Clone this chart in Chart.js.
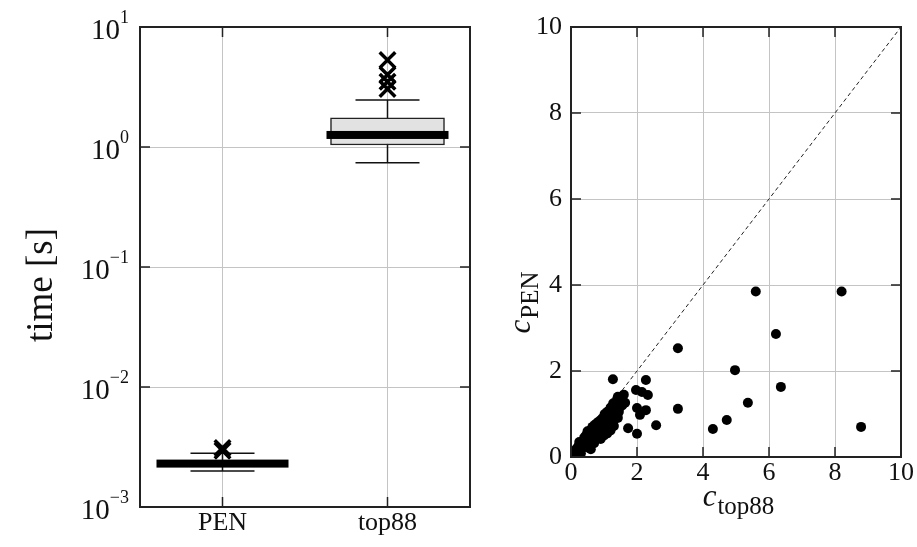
<!DOCTYPE html>
<html>
<head>
<meta charset="utf-8">
<script src="https://cdn.jsdelivr.net/npm/chart.js@4.4.0/dist/chart.umd.min.js"></script>
<style>
  body { margin: 0; background: #fff; }
  #left { position: absolute; left: 0; top: 0; }
  #right { position: absolute; left: 490px; top: 0; }
</style>
</head>
<body>
<canvas id="left" width="490" height="547"></canvas>
<canvas id="right" width="427" height="547"></canvas>
<script>
// ---- box plot data (seconds) ----
const methods = ['PEN', 'top88'];
const whiskerLow = [2.0e-3, 0.74];
const quart1 = [2.2e-3, 1.04];
const medians = [2.3e-3, 1.26];
const quart3 = [2.42e-3, 1.75];
const whiskerHigh = [2.8e-3, 2.47];
const penOutliers = [3.1e-3, 2.95e-3];
const top88Outliers = [5.3, 4.0, 3.5, 3.05];

// log axis ticks
const yTickValues = [1e-3, 1e-2, 1e-1, 1, 10];
const yTickExponents = ['\u22123', '\u22122', '\u22121', '0', '1'];

// ---- scatter data ----
const cTop88 = [0.03, 0.08, 0.12, 0.15, 0.2, 0.22, 0.28, 0.3, 0.35, 0.38, 0.42, 0.45, 0.48, 0.5, 0.52,
  0.55, 0.58, 0.6, 0.62, 0.65, 0.68, 0.7, 0.72, 0.75, 0.78, 0.8, 0.82, 0.85, 0.88, 0.9,
  0.92, 0.95, 0.98, 1.0, 1.02, 1.05, 1.08, 1.1, 1.15, 1.18, 1.2, 1.25, 1.28, 1.3, 1.35,
  1.4, 1.42, 1.45, 1.5, 1.55, 1.6, 1.48, 1.64, 1.42, 1.27,
  0.3, 0.5, 0.7, 0.9, 1.1, 1.3, 0.6, 0.4, 0.25, 0.95, 1.2,
  1.97, 2.15, 2.33, 2.27, 2.0, 2.27, 2.09, 1.73, 2.0, 2.58,
  3.24, 3.24, 4.3, 4.72, 4.97, 5.36, 5.6, 6.21, 6.36, 8.2, 8.79];
const cPEN = [0.02, 0.1, 0.05, 0.18, 0.1, 0.25, 0.15, 0.3, 0.22, 0.38, 0.3, 0.5, 0.4, 0.6, 0.3,
  0.48, 0.62, 0.42, 0.55, 0.7, 0.5, 0.62, 0.75, 0.45, 0.6, 0.8, 0.68, 0.55, 0.85, 0.72,
  0.6, 0.9, 0.78, 0.5, 1.0, 0.68, 0.88, 1.05, 0.95, 0.75, 1.15, 1.0, 1.25, 0.85, 1.15,
  1.35, 1.4, 1.05, 1.3, 1.2, 1.45, 1.16, 1.26, 0.91, 1.81,
  0.08, 0.22, 0.32, 0.42, 0.55, 0.72, 0.18, 0.45, 0.35, 0.62, 0.62,
  1.56, 1.51, 1.44, 1.79, 1.14, 1.09, 0.98, 0.67, 0.54, 0.74,
  2.53, 1.12, 0.65, 0.86, 2.02, 1.26, 3.85, 2.86, 1.63, 3.85, 0.70];
const refLine = [0, 10];
const linTicks = [0, 2, 4, 6, 8, 10];

const SERIF = '"Liberation Serif", "DejaVu Serif", serif';
const INK = '#111';

// frame around the plot area plus inward tick marks on all four sides
const frameTicks = {
  id: 'frameTicks',
  afterDraw(chart) {
    const { ctx, chartArea: a, scales: { x, y } } = chart;
    ctx.save();
    ctx.strokeStyle = '#222';
    ctx.lineWidth = 1.5;
    ctx.beginPath();
    x.ticks.forEach((t, i) => {
      const px = x.getPixelForTick(i);
      ctx.moveTo(px, a.bottom); ctx.lineTo(px, a.bottom - 10);
      ctx.moveTo(px, a.top); ctx.lineTo(px, a.top + 10);
    });
    y.ticks.forEach((t, i) => {
      const py = y.getPixelForTick(i);
      ctx.moveTo(a.left, py); ctx.lineTo(a.left + 10, py);
      ctx.moveTo(a.right, py); ctx.lineTo(a.right - 10, py);
    });
    ctx.stroke();
    ctx.lineWidth = 2;
    ctx.strokeRect(a.left, a.top, a.width, a.height);
    ctx.restore();
  }
};

function drawSubLabel(ctx, cx, cy, rot, main, sub) {
  ctx.save();
  ctx.translate(cx, cy);
  ctx.rotate(rot);
  ctx.fillStyle = INK;
  ctx.textBaseline = 'alphabetic';
  ctx.font = 'italic 31px ' + SERIF;
  const w1 = ctx.measureText(main).width;
  ctx.font = '25px ' + SERIF;
  const w2 = ctx.measureText(sub).width;
  const sx = -(w1 + w2) / 2;
  ctx.font = 'italic 31px ' + SERIF;
  ctx.fillText(main, sx, 4);
  ctx.font = '25px ' + SERIF;
  ctx.fillText(sub, sx + w1 + 1, 12);
  ctx.restore();
}

// whiskers, caps, medians and the power-of-ten labels for the left panel
const boxPlot = {
  id: 'boxPlot',
  beforeDatasetsDraw(chart) {
    const { ctx, scales: { x, y } } = chart;
    ctx.save();
    ctx.strokeStyle = INK;
    ctx.lineWidth = 1.5;
    methods.forEach((m, i) => {
      const cx = x.getPixelForValue(i);
      const lo = y.getPixelForValue(whiskerLow[i]);
      const hi = y.getPixelForValue(whiskerHigh[i]);
      ctx.beginPath();
      ctx.moveTo(cx, lo); ctx.lineTo(cx, hi);
      ctx.moveTo(cx - 32, lo); ctx.lineTo(cx + 32, lo);
      ctx.moveTo(cx - 32, hi); ctx.lineTo(cx + 32, hi);
      ctx.stroke();
    });
    ctx.restore();
  },
  afterDatasetsDraw(chart) {
    const { ctx, scales: { x, y } } = chart;
    ctx.save();
    ctx.fillStyle = '#000';
    methods.forEach((m, i) => {
      const cx = x.getPixelForValue(i);
      const py = y.getPixelForValue(medians[i]);
      const w = i === 0 ? 132 : 122;
      ctx.fillRect(cx - w / 2, py - 4, w, 8);
    });
    ctx.restore();
  },
  afterDraw(chart) {
    const { ctx, chartArea: a, scales: { y } } = chart;
    ctx.save();
    ctx.fillStyle = INK;
    ctx.textBaseline = 'middle';
    yTickValues.forEach((v, i) => {
      const py = y.getPixelForValue(v);
      ctx.font = '18px ' + SERIF;
      const we = ctx.measureText(yTickExponents[i]).width;
      ctx.font = '29px ' + SERIF;
      const wb = ctx.measureText('10').width;
      const right = a.left - 11;
      ctx.fillText('10', right - we - wb, py + 4);
      ctx.font = '18px ' + SERIF;
      ctx.fillText(yTickExponents[i], right - we, py - 9);
    });
    ctx.save();
    ctx.translate(42, 285);
    ctx.rotate(-Math.PI / 2);
    ctx.textAlign = 'center';
    ctx.font = '37px ' + SERIF;
    ctx.fillText('time [s]', 0, 0);
    ctx.restore();
    ctx.restore();
  }
};

const scatterTitles = {
  id: 'scatterTitles',
  afterDraw(chart) {
    const { ctx, chartArea: a } = chart;
    drawSubLabel(ctx, 36, 303, -Math.PI / 2, 'c', 'PEN');
    drawSubLabel(ctx, (a.left + a.right) / 2 + 2, 502, 0, 'c', 'top88');
  }
};

new Chart(document.getElementById('left'), {
  type: 'bar',
  data: {
    labels: methods,
    datasets: [
      {
        type: 'line',
        showLine: false,
        data: penOutliers.map(v => ({ x: 'PEN', y: v }))
          .concat(top88Outliers.map(v => ({ x: 'top88', y: v }))),
        pointStyle: 'crossRot',
        pointRadius: 11,
        pointBorderWidth: 3.5,
        borderColor: '#000',
        backgroundColor: '#000'
      },
      {
        data: methods.map((m, i) => [quart1[i], quart3[i]]),
        backgroundColor: '#e2e2e2',
        borderColor: '#222',
        borderWidth: 1.5,
        borderSkipped: false,
        barThickness: 114
      }
    ]
  },
  options: {
    responsive: false,
    animation: false,
    layout: { padding: { top: 27, right: 20, left: 0, bottom: 0 } },
    plugins: { legend: { display: false }, tooltip: { enabled: false } },
    scales: {
      x: {
        offset: true,
        grid: { offset: false, color: '#c4c4c4', lineWidth: 1, drawTicks: false },
        border: { display: false },
        ticks: { color: INK, font: { family: SERIF, size: 26 }, padding: 1 },
        afterFit: s => { s.height = 40; }
      },
      y: {
        type: 'logarithmic',
        min: 1e-3,
        max: 10,
        grid: { color: '#c4c4c4', lineWidth: 1, drawTicks: false },
        border: { display: false },
        ticks: { display: false },
        afterBuildTicks: s => { s.ticks = yTickValues.map(v => ({ value: v })); },
        afterFit: s => { s.width = 140; }
      }
    }
  },
  plugins: [boxPlot, frameTicks]
});

new Chart(document.getElementById('right'), {
  type: 'scatter',
  data: {
    datasets: [
      {
        data: cTop88.map((v, i) => ({ x: v, y: cPEN[i] })),
        pointRadius: 5,
        pointBackgroundColor: '#000',
        pointBorderColor: '#000',
        pointBorderWidth: 0
      },
      {
        type: 'line',
        data: refLine.map(v => ({ x: v, y: v })),
        borderColor: '#222',
        borderWidth: 1,
        borderDash: [4, 3],
        pointRadius: 0
      }
    ]
  },
  options: {
    responsive: false,
    animation: false,
    layout: { padding: { top: 27, right: 16, left: 0, bottom: 0 } },
    plugins: { legend: { display: false }, tooltip: { enabled: false } },
    scales: {
      x: {
        type: 'linear', min: 0, max: 10,
        grid: { color: '#c4c4c4', lineWidth: 1, drawTicks: false },
        border: { display: false },
        ticks: { color: INK, font: { family: SERIF, size: 26 }, padding: 1 },
        afterBuildTicks: s => { s.ticks = linTicks.map(v => ({ value: v })); },
        afterFit: s => { s.height = 90; }
      },
      y: {
        type: 'linear', min: 0, max: 10,
        grid: { color: '#c4c4c4', lineWidth: 1, drawTicks: false },
        border: { display: false },
        ticks: { color: INK, font: { family: SERIF, size: 26 }, padding: 9 },
        afterBuildTicks: s => { s.ticks = linTicks.map(v => ({ value: v })); },
        afterFit: s => { s.width = 81; }
      }
    }
  },
  plugins: [scatterTitles, frameTicks]
});
</script>
</body>
</html>
